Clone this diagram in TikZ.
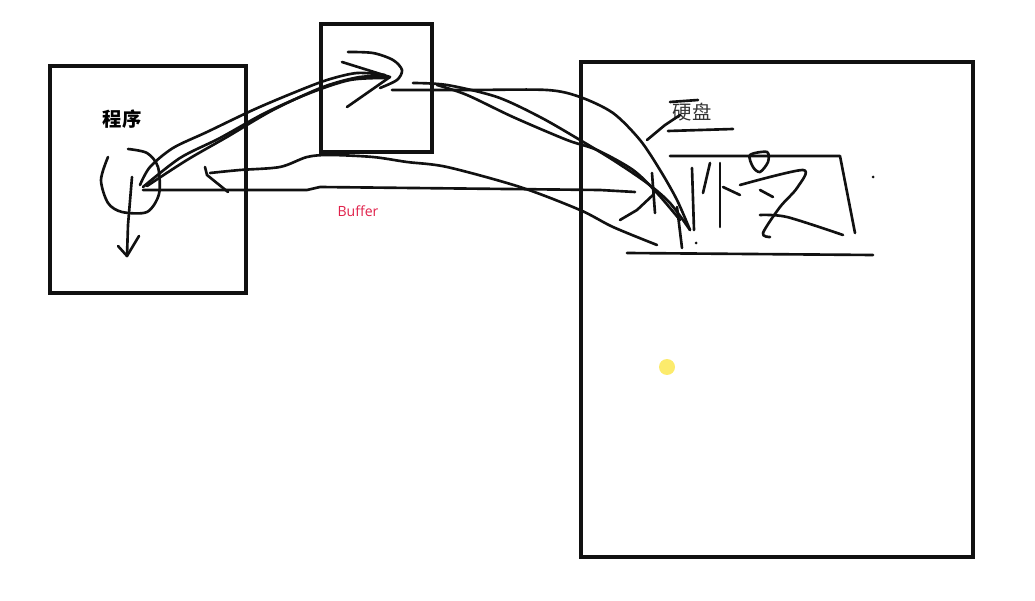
\documentclass[tikz,border=0pt]{standalone}
\usepackage{fontspec}
\setsansfont{Open Sans}
\newfontfamily\cjk{Noto Sans CJK SC}
\usepackage{tikz}
\definecolor{ink}{HTML}{111111}
\definecolor{crimson}{HTML}{E0204A}
\definecolor{dotyellow}{HTML}{FCEB6C}
\tikzset{box/.style={draw=ink,line width=2pt},
pen/.style={ink,line width=1.5pt,line cap=round,line join=round},
lbl/.style={inner sep=0pt,font=\cjk\fontsize{11}{13}\selectfont}}

\begin{document}
\begin{tikzpicture}[x=0.02cm,y=-0.02cm]
\useasboundingbox (0,0) rectangle (1035,601);
% the three boxes
\draw[box] (50,66) rectangle (246,293);
\draw[box] (321,24) rectangle (432,152);
\draw[box] (581,62) rectangle (973,557);
\node[lbl,font=\cjk\bfseries\fontsize{11}{13}\selectfont] (prog) at (122,119) {程序};
\node[lbl,text=ink!85] (disk) at (692,112) {硬盘};
\node[inner sep=0pt,font=\sffamily\fontsize{8}{10}\selectfont,text=crimson] (buf) at (358,211) {Buffer};
\fill[dotyellow] (667,367) circle (0.16cm);
% program: loop and down arrow
\draw[pen] plot[smooth] coordinates {(108,157) (101,180) (108,203) (122,212) (147,212) (159,194) (158,167) (147,153) (128,149)};
\draw[pen] (132,177) -- (128,225) -- (127,256);
\draw[pen] (118,246) -- (127,256) -- (139,236);
% straight line to disk
\draw[pen] (143,190) -- (307,190) -- (320,187) -- (600,190) -- (635,192);
% way back from disk
\draw[pen] plot[smooth] coordinates {(657,245) (613,227) (580,210) (520,187) (447,167) (407,162) (373,157) (330,155) (307,157) (280,167) (240,170) (210,173)};
\draw[pen] (205,167) -- (207,175) -- (228,192);
% program to buffer
\draw[pen] plot[smooth] coordinates {(140,185) (150,167) (173,148) (207,132) (253,110) (293,93) (327,80) (357,73) (385,75)};
\draw[pen] plot[smooth] coordinates {(147,186) (187,160) (227,137) (273,110) (323,87) (360,77) (388,77)};
\draw[pen] plot[smooth] coordinates {(143,187) (180,158) (220,138) (265,113) (310,93) (350,80) (385,78)};
\draw[pen] (342,62) -- (390,77) -- (347,107);
\draw[pen] plot[smooth] coordinates {(348,52) (373,53) (393,60) (402,70) (397,80) (380,88)};
% buffer to disk
\draw[pen] plot[smooth] coordinates {(392,90) (470,90) (547,90) (580,97) (613,113) (640,140) (660,170) (677,200) (690,230)};
\draw[pen] plot[smooth] coordinates {(413,83) (447,85) (497,97) (540,117) (580,140) (613,160) (647,183) (670,203) (690,230)};
\draw[pen] plot[smooth] coordinates {(437,85) (467,95) (513,117) (567,140) (597,150) (633,170) (657,193) (680,220)};
\draw[pen] (620,220) -- (637,210) -- (653,195);
\draw[pen] (652,173) -- (655,213);
\draw[pen] (677,207) -- (682,248);
% inside the disk
\draw[pen] (670,102) -- (698,100);
\draw[pen] (647,140) -- (665,125) -- (680,115);
\draw[pen] (668,131) -- (733,129);
\draw[pen] (670,156) -- (840,156) -- (855,233);
\draw[pen] (627,253) -- (873,255);
\draw[pen] (692,168) -- (694,230);
\draw[pen] (710,163) -- (703,193);
\draw[pen] (720,163) -- (720,227);
\draw[pen] (723,187) -- (740,195);
\draw[pen] plot[smooth cycle] coordinates {(750,155) (767,152) (768,162) (760,172) (753,167)};
\draw[pen] plot[smooth] coordinates {(740,185) (803,170) (797,188) (780,207) (763,233) (770,237)};
\draw[pen] (760,190) -- (773,197);
\draw[pen] plot[smooth] coordinates {(760,215) (787,217) (843,235)};
\fill[ink] (873,177) circle (0.03cm) (696,243) circle (0.03cm);
\end{tikzpicture}
\end{document}
